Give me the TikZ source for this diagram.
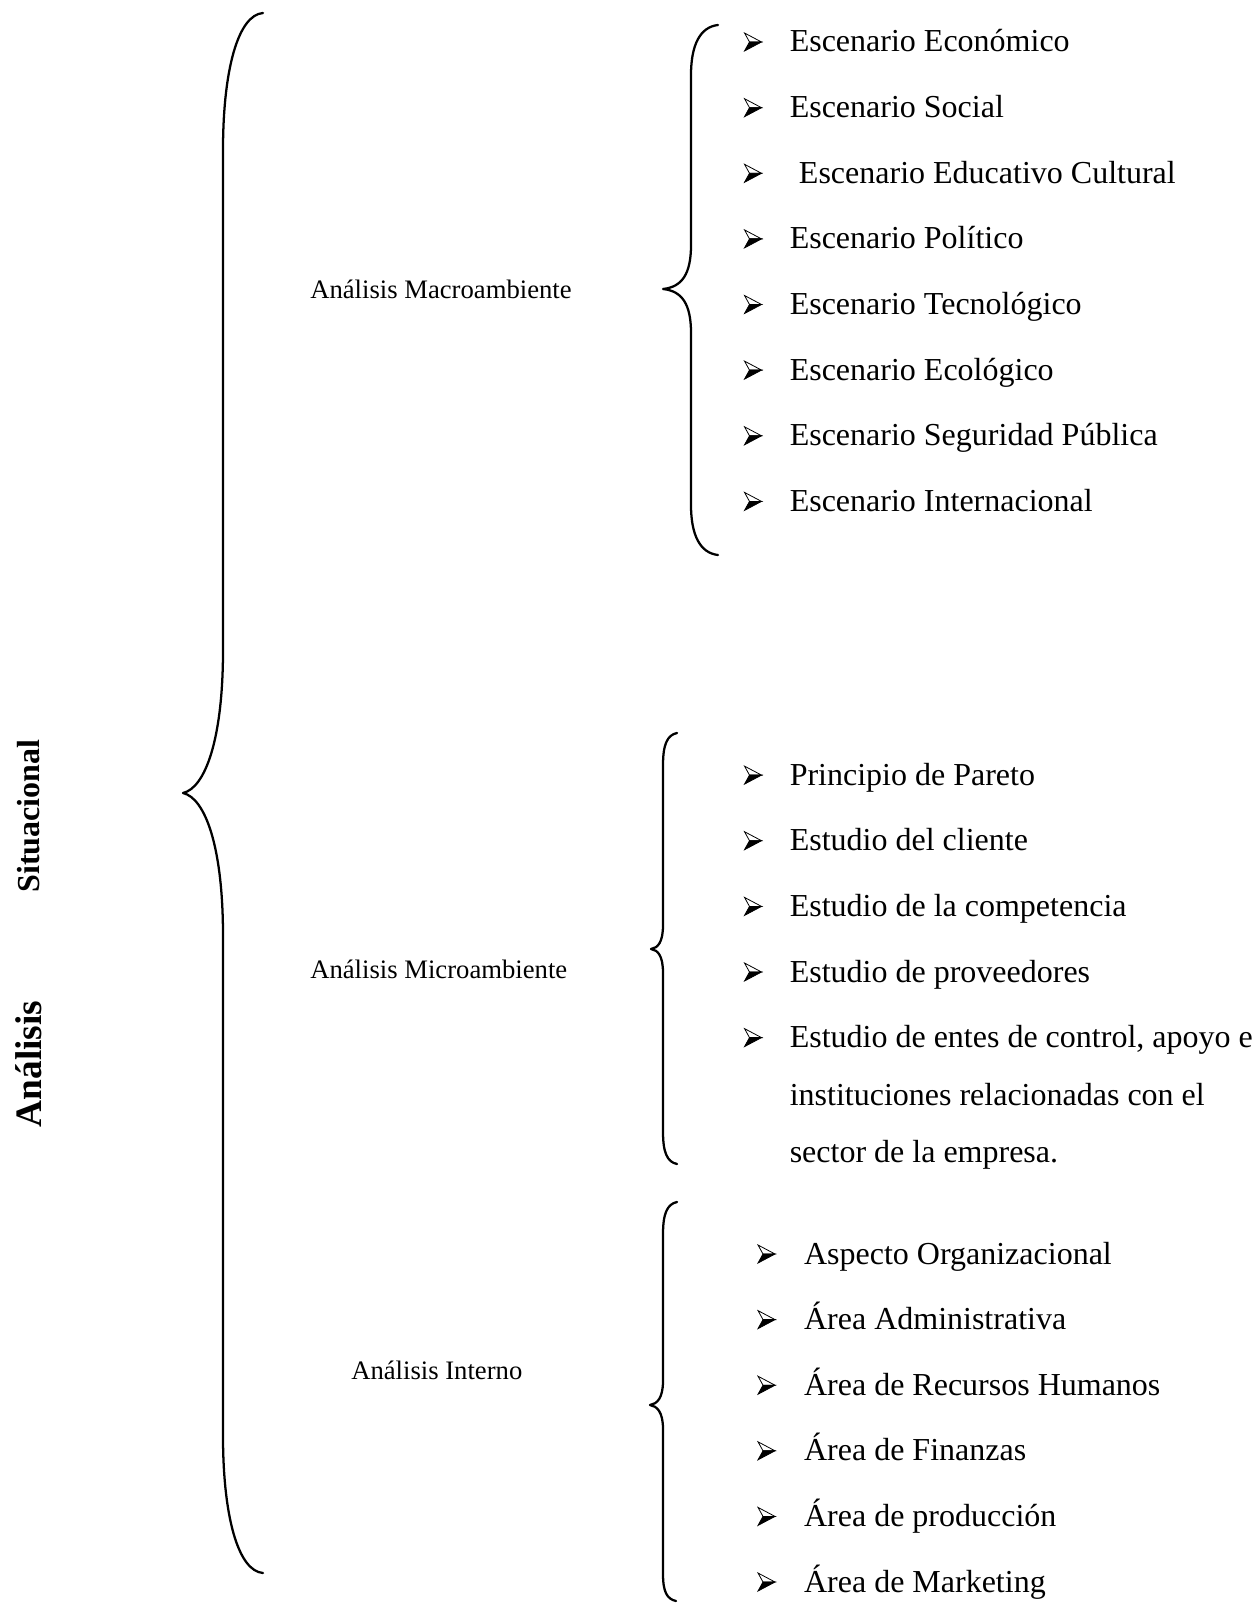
\documentclass[tikz,border=0pt]{standalone}
\usepackage{fontspec}
\setmainfont{Liberation Serif}
\begin{document}
\begin{tikzpicture}[x=0.75pt,y=-0.75pt,
  bracestyle/.style={line width=1.7pt,line join=round,line cap=round},
  itemtext/.style={anchor=base west,inner sep=0pt,font=\fontsize{24}{28}\selectfont},
  labeltext/.style={anchor=base west,inner sep=0pt,font=\fontsize{20}{24}\selectfont},
  sidetext/.style={rotate=90,inner sep=0pt,font=\fontsize{24}{28}\selectfont\bfseries},
  arrowbul/.pic={
    \draw[line width=0.6pt,line join=miter,fill=white] (9,0) -- (-8,-9) -- (-3,0) -- cycle;
    \fill[black] (9,0) -- (-3,0) -- (-8,9) -- cycle;
    \draw[line width=0.6pt,line join=miter] (9,0) -- (-3,0) -- (-8,9) -- cycle;
  }]
\useasboundingbox (0,0) rectangle (1256,1608);
\fill[white] (0,0) rectangle (1256,1608);

% side labels
\node[sidetext] (sit) at (29,816) {Situacional};
\node[sidetext,font=\fontsize{28}{32}\selectfont\bfseries] (ana) at (29,1064) {Análisis};

% big brace
\draw[bracestyle] (263,13) .. controls (238,15) and (223,70) .. (223,150) -- (223,650)
  .. controls (223,740) and (205,788) .. (183,793)
  .. controls (205,798) and (223,846) .. (223,936) -- (223,1436)
  .. controls (223,1516) and (238,1571) .. (263,1573);

% group labels
\node[labeltext] (macro) at (310,299) {Análisis Macroambiente};
\node[labeltext] (micro) at (310,978) {Análisis Microambiente};
\node[labeltext] (inter) at (351,1379) {Análisis Interno};

% macro brace
\draw[bracestyle] (718,25) .. controls (700,27) and (691,45) .. (691,75) -- (691,245)
  .. controls (691,274) and (682,287) .. (663,289)
  .. controls (682,291) and (691,304) .. (691,333) -- (691,505)
  .. controls (691,535) and (700,553) .. (718,555);

% micro brace
\draw[bracestyle] (677,733) .. controls (667,735) and (663,745) .. (663,765) -- (663,925)
  .. controls (663,942) and (658,948) .. (651,949)
  .. controls (658,950) and (663,956) .. (663,973) -- (663,1132)
  .. controls (663,1152) and (667,1162) .. (677,1164);

% interno brace
\draw[bracestyle] (677,1202) .. controls (667,1204) and (663,1214) .. (663,1234) -- (663,1381)
  .. controls (663,1398) and (657,1404) .. (650,1405)
  .. controls (657,1406) and (663,1412) .. (663,1429) -- (663,1574)
  .. controls (663,1592) and (667,1599) .. (676,1601);

% macro items
\foreach \yy/\tx/\xx [count=\i] in {42/Escenario Económico/789.5, 107.7/Escenario Social/789.5,
   173.3/Escenario Educativo Cultural/798.7, 238.9/Escenario Político/789.5,
   304.5/Escenario Tecnológico/789.5, 370.1/Escenario Ecológico/789.5,
   435.8/Escenario Seguridad Pública/789.5, 501.4/Escenario Internacional/789.5}{
  \pic at (752.5,\yy) {arrowbul};
  \node[itemtext] (ma\i) at (\xx,\yy+10) {\tx};
}

% micro items
\foreach \yy/\tx [count=\i] in {775.1/Principio de Pareto, 840.7/Estudio del cliente,
   906.4/Estudio de la competencia, 972.0/Estudio de proveedores,
   1037.6/{Estudio de entes de control, apoyo e}}{
  \pic at (752.5,\yy) {arrowbul};
  \node[itemtext] (mi\i) at (789.5,\yy+10) {\tx};
}
\node[itemtext] (mi6) at (789.5,1105) {instituciones relacionadas con el};
\node[itemtext] (mi7) at (789.5,1162.4) {sector de la empresa.};

% interno items
\foreach \yy/\tx [count=\i] in {1254/Aspecto Organizacional, 1319.6/Área Administrativa,
   1385.2/Área de Recursos Humanos, 1450.8/Área de Finanzas,
   1516.4/Área de producción, 1582/Área de Marketing}{
  \pic at (766,\yy) {arrowbul};
  \node[itemtext] (in\i) at (803.8,\yy+10) {\tx};
}
\end{tikzpicture}
\end{document}
